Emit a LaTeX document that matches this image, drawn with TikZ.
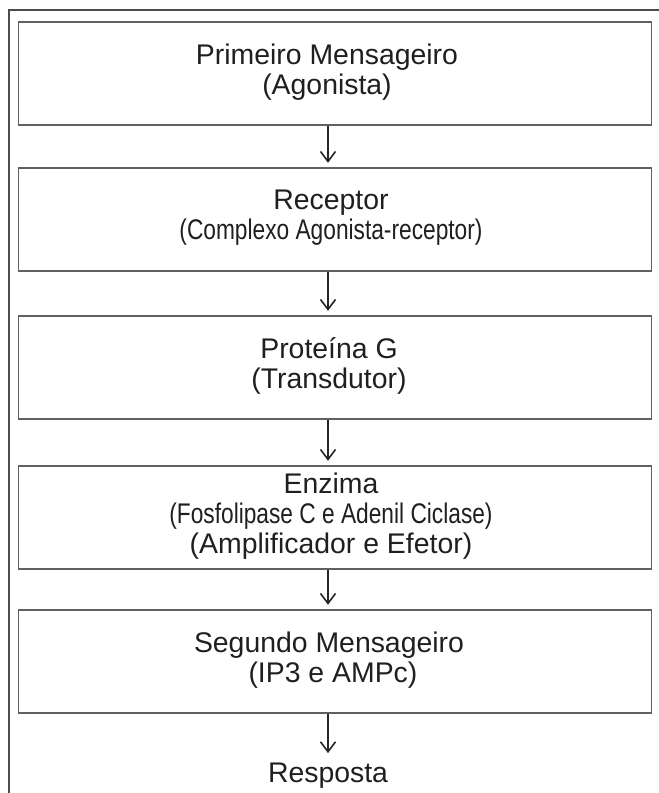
\documentclass[tikz,border=0pt]{standalone}
\usepackage{fontspec}
\usepackage{graphicx}
\setmainfont{Liberation Sans}
\usetikzlibrary{arrows.meta}
\newcommand{\narrowline}[1]{\scalebox{0.8}[1]{#1}}
\begin{document}
\begin{tikzpicture}[x=1pt,y=1pt,
  stagebox/.style={draw=black!62,line width=1.4pt,minimum width=633pt,minimum height=103pt,inner sep=0pt},
  stagetext/.style={align=center,inner sep=0pt,text=black!88,font=\fontsize{28.4}{29.8}\selectfont},
  flowarrow/.style={draw=black!85,line width=1.2pt,-{Straight Barb[length=10pt,width=15pt,line width=1.6pt]},shorten >=4.5pt}]
\useasboundingbox (0,0) rectangle (659,-793);
\draw[black!70,line width=2pt] (9,-795) -- (9,-10) -- (661,-10);
\coordinate (ax) at (328,0);
\node[stagebox] (b1) at (335,-73.5) {};
\node[stagebox] (b2) at (335,-219.5) {};
\node[stagebox] (b3) at (335,-367.5) {};
\node[stagebox] (b4) at (335,-517.5) {};
\node[stagebox] (b5) at (335,-661.5) {};
\node[stagetext] (t1) at (327,-72) {Primeiro Mensageiro\\(Agonista)};
\node[stagetext] (t2) at (331,-218) {Receptor\\\narrowline{(Complexo Agonista-receptor)}};
\node[stagetext] (t3) at (329,-366) {Proteína G\\(Transdutor)};
\node[stagetext] (t4) at (331,-516) {Enzima\\\narrowline{(Fosfolipase C e Adenil Ciclase)}\\(Amplificador e Efetor)};
\node[stagetext] (t5) at (329,-660) {Segundo Mensageiro\\\ (IP3 e AMPc)};
\node[stagetext] (r) at (328,-776) {Resposta};
\draw[flowarrow] (b1.south -| ax) -- (b2.north -| ax);
\draw[flowarrow] (b2.south -| ax) -- (b3.north -| ax);
\draw[flowarrow] (b3.south -| ax) -- (b4.north -| ax);
\draw[flowarrow] (b4.south -| ax) -- (b5.north -| ax);
\draw[flowarrow,shorten >=10pt] (b5.south -| ax) -- (r.north -| ax);
\end{tikzpicture}
\end{document}
